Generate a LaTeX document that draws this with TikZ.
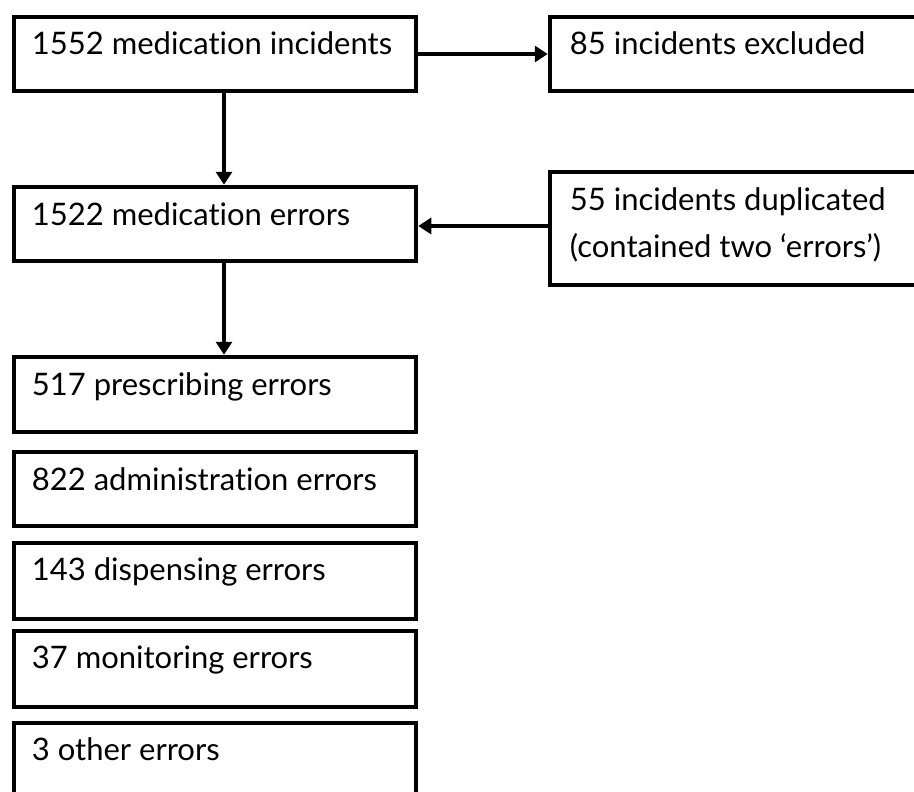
\documentclass[tikz,border=0pt]{standalone}
\usepackage{fontspec}
\setmainfont{Lato}[Ligatures={NoCommon}]
\usetikzlibrary{arrows.meta}
\tikzset{
  box/.style={draw=black, line width=4.5pt, rectangle, minimum width=402pt, inner sep=0pt},
  lbl/.style={inner sep=0pt, anchor=base west, font=\fontsize{31}{47}\selectfont, align=left},
  arr/.style={line width=4.5pt, -{Triangle[width=16pt,length=13pt]}}
}
\begin{document}
\begin{tikzpicture}[x=1pt,y=-1pt]
\useasboundingbox (0,0) rectangle (914,792);
\clip (0,0) rectangle (914,792);
\fill[white] (0,0) rectangle (914,792);
% boxes (center-line coordinates)
\node[box, minimum height=74pt] (b1) at (215,54) {};
\node[box, minimum height=74pt, minimum width=420pt] (b2) at (760,54) {};
\node[box, minimum height=74pt] (b3) at (215,224) {};
\node[box, minimum height=113pt, minimum width=420pt] (b4) at (760,228.5) {};
\node[box, minimum height=75pt] (b5) at (215,394.5) {};
\node[box, minimum height=74pt] (b6) at (215,489) {};
\node[box, minimum height=76pt] (b7) at (215,581) {};
\node[box, minimum height=76pt] (b8) at (215,669) {};
\node[box, minimum height=76pt] (b9) at (215,761) {};
% labels
\node[lbl] (t1) at ([xshift=20pt,yshift=-40pt]b1.north west) {1552 medication incidents};
\node[lbl] (t2) at ([xshift=22pt,yshift=-40pt]b2.north west) {85 incidents excluded};
\node[lbl] (t3) at ([xshift=20pt,yshift=-41pt]b3.north west) {1522 medication errors};
\node[lbl] (t4) at ([xshift=22pt,yshift=-88pt]b4.north west) {55 incidents duplicated\\(contained two ‘errors’)};
\node[lbl] (t5) at ([xshift=20pt,yshift=-41pt]b5.north west) {517 prescribing errors};
\node[lbl] (t6) at ([xshift=20pt,yshift=-41pt]b6.north west) {822 administration errors};
\node[lbl] (t7) at ([xshift=20pt,yshift=-40pt]b7.north west) {143 dispensing errors};
\node[lbl] (t8) at ([xshift=20pt,yshift=-40pt]b8.north west) {37 monitoring errors};
\node[lbl] (t9) at ([xshift=20pt,yshift=-40pt]b9.north west) {3 other errors};
% connectors
\coordinate (c4) at ([yshift=2.5pt]b4.west);
\draw[arr, line width=3.8pt] (b1.east) -- (b2.west);
\draw[arr] ([xshift=9pt]b1.south) -- ([xshift=9pt]b3.north);
\draw[arr, line width=3.8pt] (c4) -- (b3.east |- c4);
\draw[arr] ([xshift=9pt]b3.south) -- ([xshift=9pt]b5.north);
\end{tikzpicture}
\end{document}
